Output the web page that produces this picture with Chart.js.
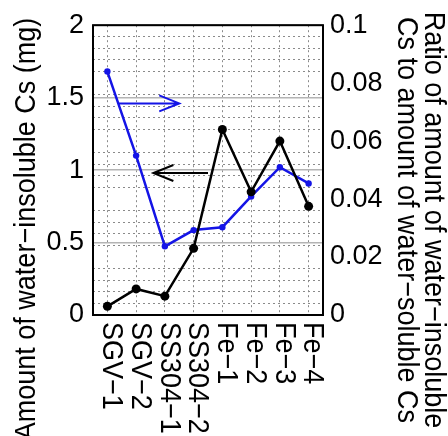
<!DOCTYPE html>
<html>
<head>
<meta charset="utf-8">
<script src="https://cdn.jsdelivr.net/npm/chart.js@4"></script>
<style>
body { margin: 0; background: #fff; }
canvas { display: block; }
</style>
</head>
<body>
<canvas id="cs-chart" width="448" height="436"></canvas>
<script>
const samples = ['SGV−1', 'SGV−2', 'SS304−1', 'SS304−2', 'Fe−1', 'Fe−2', 'Fe−3', 'Fe−4'];
const insolubleCs = [0.06, 0.18, 0.13, 0.46, 1.28, 0.85, 1.20, 0.75];
const ratioCs = [0.084, 0.055, 0.0237, 0.0293, 0.0303, 0.0409, 0.051, 0.0454];
const leftTitle = 'Amount of water−insoluble Cs (mg)';
const rightTitle = ['Ratio of amount of water−insoluble', 'Cs to amount of water−soluble Cs'];

const FONT = '"Liberation Sans", Arial, sans-serif';
const BLUE = '#1414e6';

function drawArrow(ctx, x1, y, x2, color) {
    const dir = x2 > x1 ? 1 : -1;
    ctx.save();
    ctx.strokeStyle = color;
    ctx.lineWidth = 2;
    ctx.beginPath();
    ctx.moveTo(x1, y);
    ctx.lineTo(x2, y);
    ctx.moveTo(x2 - dir * 20, y - 8);
    ctx.lineTo(x2, y);
    ctx.lineTo(x2 - dir * 20, y + 8);
    ctx.stroke();
    ctx.restore();
}

// frame, rotated labels, titles and the two arrows
const decorations = {
    id: 'decorations',
    beforeDatasetsDraw(chart) {
        const {ctx, chartArea: a} = chart;
        ctx.save();
        ctx.strokeStyle = '#000';
        ctx.lineWidth = 2;
        ctx.strokeRect(a.left, a.top, a.right - a.left, a.bottom - a.top);
        ctx.restore();
    },
    afterDraw(chart) {
        const {ctx, chartArea: a, scales} = chart;
        ctx.save();
        ctx.fillStyle = '#000';
        ctx.font = '27px ' + FONT;
        ctx.textBaseline = 'middle';

        ctx.textAlign = 'left';
        samples.forEach((s, i) => {
            ctx.save();
            ctx.translate(scales.x.getPixelForTick(i) + 4, a.bottom + 7);
            ctx.rotate(Math.PI / 2);
            ctx.scale(1, 1.1);
            ctx.fillText(s, 0, 0);
            ctx.restore();
        });

        ctx.textAlign = 'center';
        ctx.save();
        ctx.translate(27, 229);
        ctx.rotate(-Math.PI / 2);
        ctx.scale(1, 1.1);
        ctx.fillText(leftTitle, 0, 0);
        ctx.restore();

        ctx.save();
        ctx.translate(433, 220);
        ctx.rotate(Math.PI / 2);
        ctx.scale(1, 1.1);
        rightTitle.forEach((t, i) => ctx.fillText(t, 0, i * 24.5));
        ctx.restore();

        drawArrow(ctx, scales.x.getPixelForValue(0.4), scales.y.getPixelForValue(1.46), scales.x.getPixelForValue(2.5), BLUE);
        drawArrow(ctx, scales.x.getPixelForValue(3.5), scales.y.getPixelForValue(0.98), scales.x.getPixelForValue(1.6), '#000');
        ctx.restore();
    }
};

new Chart(document.querySelector('#cs-chart').getContext('2d'), {
    type: 'line',
    data: {
        labels: samples,
        datasets: [{
            label: 'insoluble',
            data: insolubleCs,
            yAxisID: 'y',
            borderColor: '#000',
            backgroundColor: '#000',
            borderWidth: 2.5,
            pointRadius: 4.5,
            pointBorderWidth: 0
        }, {
            label: 'ratio',
            data: ratioCs,
            yAxisID: 'y2',
            borderColor: BLUE,
            backgroundColor: BLUE,
            borderWidth: 2.5,
            pointRadius: 3.2,
            pointBorderWidth: 0
        }]
    },
    options: {
        responsive: false,
        animation: false,
        devicePixelRatio: 1,
        layout: { padding: { top: 20, left: 0, right: 0, bottom: 0 } },
        plugins: { legend: { display: false }, tooltip: { enabled: false } },
        scales: {
            x: {
                type: 'category',
                offset: true,
                ticks: { display: false },
                grid: { color: '#8a8a8a', lineWidth: 1, drawTicks: false },
                border: { display: false, dash: [2, 3] },
                afterFit: scale => { scale.height = 121; }
            },
            y: {
                position: 'left',
                min: 0,
                max: 2,
                ticks: {
                    stepSize: 0.5,
                    autoSkip: false,
                    padding: 9,
                    color: '#000',
                    font: { family: FONT, size: 27 },
                    callback: v => String(v)
                },
                grid: { color: '#b4b4b4', lineWidth: 1.5, drawTicks: false },
                border: { display: false },
                afterFit: scale => { scale.width = 93; }
            },
            y2: {
                position: 'right',
                min: 0,
                max: 0.1,
                ticks: {
                    stepSize: 0.004,
                    autoSkip: false,
                    padding: 7,
                    color: '#000',
                    font: { family: FONT, size: 27 },
                    callback: (v, i) => i % 5 ? '' : (v === 0 ? '0' : String(parseFloat(v.toFixed(2))))
                },
                grid: {
                    color: ctx => ctx.index % 5 === 0 ? 'rgba(0,0,0,0)' : '#8a8a8a',
                    lineWidth: 1,
                    drawTicks: false
                },
                border: { display: false, dash: [2, 3] },
                afterFit: scale => { scale.width = 125; }
            }
        }
    },
    plugins: [decorations]
});
</script>
</body>
</html>
